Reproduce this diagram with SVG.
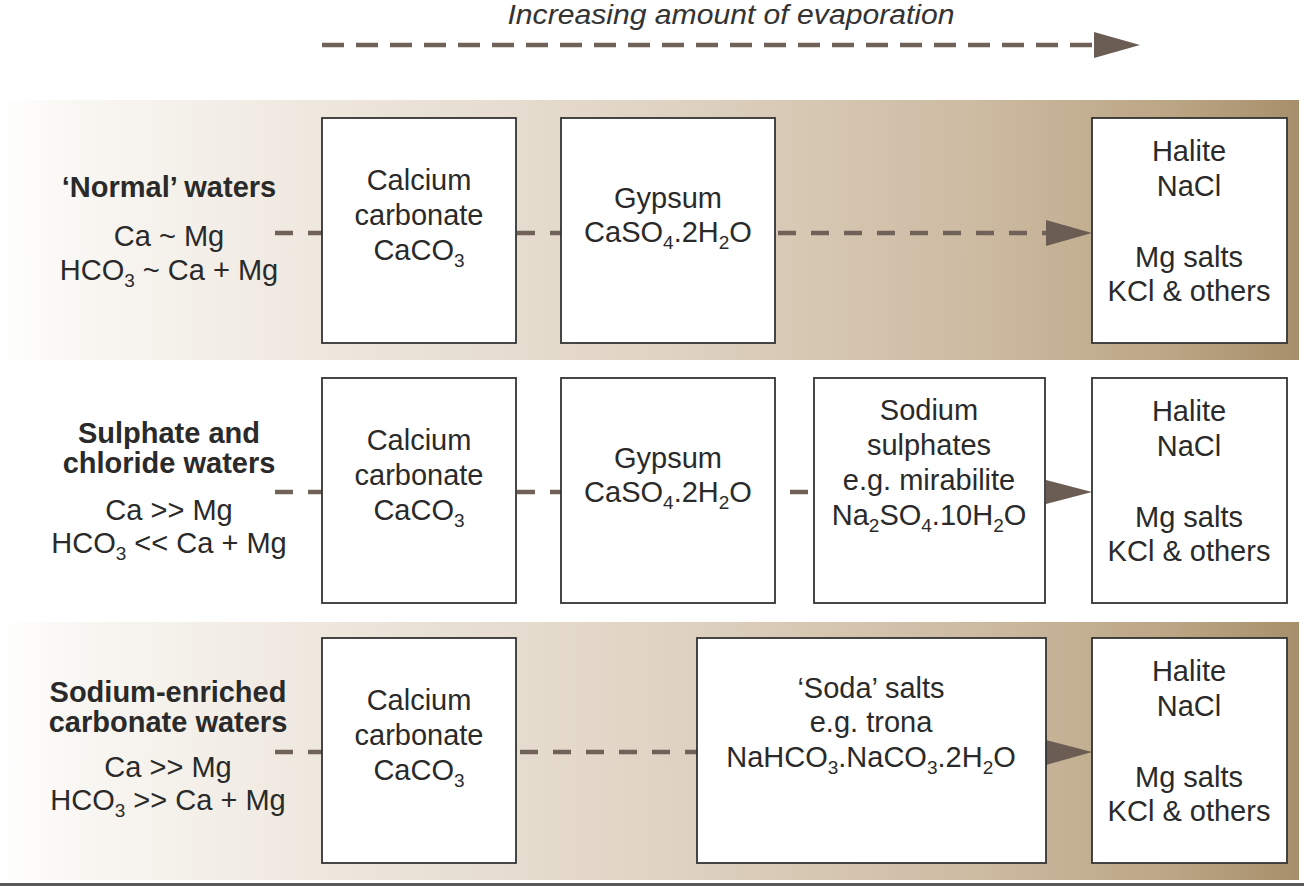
<svg xmlns="http://www.w3.org/2000/svg" width="1304" height="886" viewBox="0 0 1304 886">
  <defs>
    <linearGradient id="band" x1="0" y1="0" x2="1" y2="0">
      <stop offset="0" stop-color="#ffffff"/>
      <stop offset="0.06" stop-color="#f9f7f3"/>
      <stop offset="0.25" stop-color="#eee7de"/>
      <stop offset="0.5" stop-color="#e0d4c4"/>
      <stop offset="0.75" stop-color="#cdbba2"/>
      <stop offset="0.9" stop-color="#bba685"/>
      <stop offset="1" stop-color="#a88f6b"/>
    </linearGradient>
    <style>
      .box { fill: #ffffff; stroke: #333333; stroke-width: 1.8; }
      .t { font-family: "Liberation Sans", Arial, sans-serif; font-size: 29px; fill: #2a2a2a; text-anchor: middle; }
      .b { font-weight: bold; }
      .title { font-family: "Liberation Sans", Arial, sans-serif; font-size: 27px; font-style: italic; fill: #333333; text-anchor: middle; }
      .sub { font-size: 19px; }
      .dash { stroke: #706259; stroke-width: 4.5; stroke-dasharray: 18 15; fill: none; }
      .topdash { stroke: #706259; stroke-width: 4.5; stroke-dasharray: 22 12; fill: none; }
      .head { fill: #6b5d54; }
    </style>
  </defs>
  <rect x="0" y="0" width="1304" height="886" fill="#ffffff"/>

  <g id="bands">
    <rect x="0" y="100" width="1299" height="260" fill="url(#band)"/>
    <rect x="0" y="622" width="1299" height="258" fill="url(#band)"/>
    <rect x="0" y="883" width="1304" height="3" fill="#5a5a5a"/>
  </g>

  <g id="title">
    <text class="title" x="731" y="24" textLength="447" lengthAdjust="spacingAndGlyphs">Increasing amount of evaporation</text>
  </g>

  <g id="connectors">
    <line class="topdash" x1="322" y1="45" x2="1097" y2="45"/>
    <polygon class="head" points="1094,32 1140,45 1094,58"/>

    <line class="dash" x1="275" y1="233" x2="322" y2="233"/>
    <line class="dash" x1="517" y1="233" x2="561" y2="233"/>
    <line class="dash" x1="778" y1="233" x2="1050" y2="233"/>
    <polygon class="head" points="1046,220 1092,233 1046,246"/>

    <line class="dash" x1="275" y1="492" x2="322" y2="492"/>
    <line class="dash" x1="517" y1="492" x2="561" y2="492"/>
    <line class="dash" x1="790" y1="492" x2="811" y2="492"/>
    <polygon class="head" points="1046,480 1092,492 1046,504"/>

    <line class="dash" x1="275" y1="752" x2="322" y2="752"/>
    <line class="dash" x1="520" y1="752" x2="697" y2="752"/>
    <polygon class="head" points="1046,740 1092,752 1046,765"/>
  </g>

  <g id="label-normal">
    <text class="t b" x="169" y="197">‘Normal’ waters</text>
    <text class="t" x="169" y="246">Ca ~ Mg</text>
    <text class="t" x="169" y="280">HCO<tspan class="sub" dy="7">3</tspan><tspan dy="-7"> ~ Ca + Mg</tspan></text>
  </g>
  <g id="label-sulphate">
    <text class="t b" x="169" y="443">Sulphate and</text>
    <text class="t b" x="169" y="473">chloride waters</text>
    <text class="t" x="169" y="520">Ca &gt;&gt; Mg</text>
    <text class="t" x="169" y="553">HCO<tspan class="sub" dy="7">3</tspan><tspan dy="-7"> &lt;&lt; Ca + Mg</tspan></text>
  </g>
  <g id="label-sodium">
    <text class="t b" x="168" y="702">Sodium-enriched</text>
    <text class="t b" x="168" y="732">carbonate waters</text>
    <text class="t" x="168" y="777">Ca &gt;&gt; Mg</text>
    <text class="t" x="168" y="810">HCO<tspan class="sub" dy="7">3</tspan><tspan dy="-7"> &gt;&gt; Ca + Mg</tspan></text>
  </g>

  <g id="r1-caco3">
    <rect class="box" x="322" y="118" width="194" height="225"/>
    <text class="t" x="419" y="190">Calcium</text>
    <text class="t" x="419" y="225">carbonate</text>
    <text class="t" x="419" y="260">CaCO<tspan class="sub" dy="7">3</tspan></text>
  </g>
  <g id="r1-gypsum">
    <rect class="box" x="561" y="118" width="214" height="225"/>
    <text class="t" x="668" y="208">Gypsum</text>
    <text class="t" x="668" y="242">CaSO<tspan class="sub" dy="7">4</tspan><tspan dy="-7">.2H</tspan><tspan class="sub" dy="7">2</tspan><tspan dy="-7">O</tspan></text>
  </g>
  <g id="r1-halite">
    <rect class="box" x="1092" y="118" width="195" height="225"/>
    <text class="t" x="1189" y="161">Halite</text>
    <text class="t" x="1189" y="196">NaCl</text>
    <text class="t" x="1189" y="267">Mg salts</text>
    <text class="t" x="1189" y="301">KCl &amp; others</text>
  </g>

  <g id="r2-caco3">
    <rect class="box" x="322" y="378" width="194" height="225"/>
    <text class="t" x="419" y="450">Calcium</text>
    <text class="t" x="419" y="485">carbonate</text>
    <text class="t" x="419" y="520">CaCO<tspan class="sub" dy="7">3</tspan></text>
  </g>
  <g id="r2-gypsum">
    <rect class="box" x="561" y="378" width="214" height="225"/>
    <text class="t" x="668" y="468">Gypsum</text>
    <text class="t" x="668" y="502">CaSO<tspan class="sub" dy="7">4</tspan><tspan dy="-7">.2H</tspan><tspan class="sub" dy="7">2</tspan><tspan dy="-7">O</tspan></text>
  </g>
  <g id="r2-sodium">
    <rect class="box" x="814" y="378" width="231" height="225"/>
    <text class="t" x="929" y="420">Sodium</text>
    <text class="t" x="929" y="455">sulphates</text>
    <text class="t" x="929" y="490">e.g. mirabilite</text>
    <text class="t" x="929" y="525">Na<tspan class="sub" dy="7">2</tspan><tspan dy="-7">SO</tspan><tspan class="sub" dy="7">4</tspan><tspan dy="-7">.10H</tspan><tspan class="sub" dy="7">2</tspan><tspan dy="-7">O</tspan></text>
  </g>
  <g id="r2-halite">
    <rect class="box" x="1092" y="378" width="195" height="225"/>
    <text class="t" x="1189" y="421">Halite</text>
    <text class="t" x="1189" y="456">NaCl</text>
    <text class="t" x="1189" y="527">Mg salts</text>
    <text class="t" x="1189" y="561">KCl &amp; others</text>
  </g>

  <g id="r3-caco3">
    <rect class="box" x="322" y="638" width="194" height="225"/>
    <text class="t" x="419" y="710">Calcium</text>
    <text class="t" x="419" y="745">carbonate</text>
    <text class="t" x="419" y="780">CaCO<tspan class="sub" dy="7">3</tspan></text>
  </g>
  <g id="r3-soda">
    <rect class="box" x="697" y="638" width="349" height="225"/>
    <text class="t" x="871" y="698">‘Soda’ salts</text>
    <text class="t" x="871" y="732">e.g. trona</text>
    <text class="t" x="871" y="767">NaHCO<tspan class="sub" dy="7">3</tspan><tspan dy="-7">.NaCO</tspan><tspan class="sub" dy="7">3</tspan><tspan dy="-7">.2H</tspan><tspan class="sub" dy="7">2</tspan><tspan dy="-7">O</tspan></text>
  </g>
  <g id="r3-halite">
    <rect class="box" x="1092" y="638" width="195" height="225"/>
    <text class="t" x="1189" y="681">Halite</text>
    <text class="t" x="1189" y="716">NaCl</text>
    <text class="t" x="1189" y="787">Mg salts</text>
    <text class="t" x="1189" y="821">KCl &amp; others</text>
  </g>
</svg>
